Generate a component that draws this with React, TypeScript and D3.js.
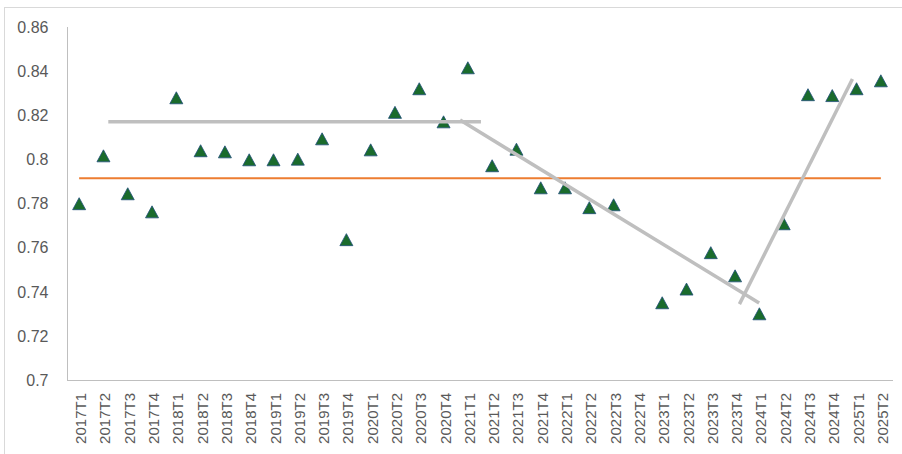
import React from "react";
import * as d3 from "d3";

const categories = [
  "2017T1","2017T2","2017T3","2017T4",
  "2018T1","2018T2","2018T3","2018T4",
  "2019T1","2019T2","2019T3","2019T4",
  "2020T1","2020T2","2020T3","2020T4",
  "2021T1","2021T2","2021T3","2021T4",
  "2022T1","2022T2","2022T3","2022T4",
  "2023T1","2023T2","2023T3","2023T4",
  "2024T1","2024T2","2024T3","2024T4",
  "2025T1","2025T2",
];

const values: (number | null)[] = [
  0.7798, 0.8015, 0.7843, 0.7761,
  0.8278, 0.8038, 0.8033, 0.7997,
  0.7997, 0.8000, 0.8092, 0.7635,
  0.8042, 0.8212, 0.8319, 0.8169,
  0.8414, 0.7970, 0.8045, 0.7870,
  0.7870, 0.7780, 0.7793, null,
  0.7349, 0.7411, 0.7576, 0.7471,
  0.7299, 0.7707, 0.8292, 0.8288,
  0.8319, 0.8355,
];

const meanValue = 0.7915;

// trend segments: [startIndex, startValue, endIndex, endValue]
const trendStartIdx = [1.2, 15.68, 27.18];
const trendStartVal = [0.8171, 0.8178, 0.7344];
const trendEndIdx = [16.54, 27.99, 31.83];
const trendEndVal = [0.8171, 0.7349, 0.8364];

const yTicks = [0.7, 0.72, 0.74, 0.76, 0.78, 0.8, 0.82, 0.84, 0.86];

const W = 902;
const H = 454;
const left = 67;
const right = 893;
const top = 27;
const bottom = 380;

export default function App() {
  const x = d3.scaleBand<string>().domain(categories).range([left, right]).padding(0);
  const y = d3.scaleLinear().domain([0.7, 0.86]).range([bottom, top]);
  const bw = x.bandwidth();
  const c0 = (x(categories[0]) ?? 0) + bw / 2;
  const cN = (x(categories[categories.length - 1]) ?? 0) + bw / 2;
  const xi = d3.scaleLinear().domain([0, categories.length - 1]).range([c0, cN]);

  const tri = (cx: number, cy: number) => {
    const hw = 6.5;
    const h = 11.5;
    return `M${cx},${cy - h / 2 - 0.5}L${cx + hw},${cy + h / 2}L${cx - hw},${cy + h / 2}Z`;
  };

  const line = d3.line<[number, number]>().x((d) => d[0]).y((d) => d[1]);

  return (
    <svg
      width={W}
      height={H}
      style={{ position: "absolute", left: 0, top: 0, background: "#fff" }}
      fontFamily="'Liberation Sans', Arial, sans-serif"
    >
      <rect x={4.5} y={7.5} width={W + 10} height={H + 10} fill="#fff" stroke="#d9d9d9" strokeWidth={1} />
      {/* axes */}
      <line x1={left + 0.5} x2={left + 0.5} y1={top} y2={bottom} stroke="#bfbfbf" strokeWidth={1} />
      <line x1={left} x2={right} y1={bottom + 0.5} y2={bottom + 0.5} stroke="#bfbfbf" strokeWidth={1} />
      {yTicks.map((t) => (
        <text
          key={t}
          x={48.5}
          y={y(t)}
          dy="0.36em"
          textAnchor="end"
          fontSize={16}
          fill="#595959"
        >
          {String(+t.toFixed(2))}
        </text>
      ))}
      {categories.map((c) => {
        const cx = (x(c) ?? 0) + bw / 2;
        return (
          <text
            key={c}
            transform={`translate(${cx + 7},393) rotate(-90)`}
            textAnchor="end"
            fontSize={15}
            fill="#595959"
          >
            {c}
          </text>
        );
      })}
      {/* mean line */}
      <path
        d={line([[xi(0), y(meanValue)], [xi(categories.length - 1), y(meanValue)]]) ?? ""}
        stroke="#ed7d31"
        strokeWidth={2}
        fill="none"
      />
      {/* markers */}
      {values.map((v, i) =>
        v == null ? null : (
          <path
            key={i}
            d={tri((x(categories[i]) ?? 0) + bw / 2, y(v))}
            fill="#1a6b2c"
            stroke="#1f4e79"
            strokeWidth={0.8}
          />
        )
      )}
      {/* trend segments */}
      {trendStartIdx.map((s, k) => (
        <path
          key={k}
          d={line([[xi(s), y(trendStartVal[k])], [xi(trendEndIdx[k]), y(trendEndVal[k])]]) ?? ""}
          stroke="#bfbfbf"
          strokeWidth={3.5}
          fill="none"
        />
      ))}
    </svg>
  );
}
